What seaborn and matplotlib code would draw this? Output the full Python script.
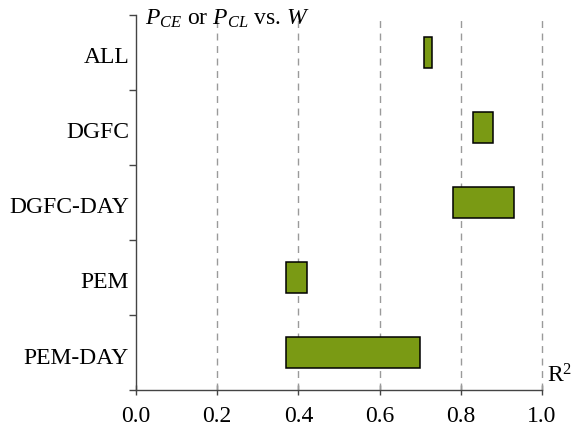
import matplotlib
matplotlib.use("Agg")
import matplotlib.pyplot as plt
import matplotlib.transforms as mtransforms
import seaborn as sns
import pandas as pd
import numpy as np

categories = ["ALL", "DGFC", "DGFC-DAY", "PEM", "PEM-DAY"]
r2_low = [0.71, 0.83, 0.78, 0.37, 0.37]
r2_high = [0.73, 0.88, 0.93, 0.42, 0.70]
x_ticks = [0.0, 0.2, 0.4, 0.6, 0.8, 1.0]

sns.set_style("white")
plt.rcParams["font.family"] = ["Liberation Serif", "DejaVu Serif"]
plt.rcParams["mathtext.fontset"] = "custom"
plt.rcParams["mathtext.rm"] = "Liberation Serif"
plt.rcParams["mathtext.it"] = "Liberation Serif:italic"
plt.rcParams["text.color"] = "black"
plt.rcParams["xtick.color"] = "black"
plt.rcParams["ytick.color"] = "black"

df = pd.DataFrame({
    "group": categories,
    "low": r2_low,
    "span": np.array(r2_high) - np.array(r2_low),
})

fig = plt.figure(figsize=(5.77, 4.33), dpi=100)
ax = fig.add_axes([0.2357, 0.0993, 0.7036, 0.8661])

sns.barplot(data=df, x="span", y="group", order=categories, orient="h",
            color="#7a9a14", saturation=1, width=0.41,
            edgecolor="black", linewidth=1.1, ax=ax, zorder=3)
# shift each bar so it starts at its lower R² bound
for patch, lo in zip(ax.patches, df["low"]):
    patch.set_x(lo)

ax.set_xlim(0, 1.0)
ax.set_ylim(4.5, -0.5)
ax.set_xlabel("")
ax.set_ylabel("")

for xv in x_ticks[1:]:
    ax.axvline(xv, color="#9a9a9a", lw=1.0, ls=(0, (5, 4)), zorder=1,
               clip_on=False)

ax.set_xticks(x_ticks)
ax.set_xticklabels([f"{v:.1f}" for v in x_ticks], fontsize=17)
ax.set_yticks(np.arange(-0.5, 5.0, 1.0))
ax.set_yticklabels([])
ax.set_yticks(range(len(categories)), minor=True)
ax.set_yticklabels(categories, minor=True, fontsize=17)
ax.tick_params(axis="y", which="minor", length=0, pad=5)
ax.tick_params(axis="y", which="major", direction="out", length=5,
               width=1.0, color="#444444", left=True)
ax.tick_params(axis="x", which="major", direction="inout", length=7,
               width=1.0, color="#444444", pad=8, bottom=True)

# nudge category labels slightly down
shift = mtransforms.ScaledTranslation(0, -3 / 100, fig.dpi_scale_trans)
for lbl in ax.get_yticklabels(minor=True):
    lbl.set_transform(lbl.get_transform() + shift)

for side in ["top", "right"]:
    ax.spines[side].set_visible(False)
for side in ["left", "bottom"]:
    ax.spines[side].set_color("#444444")
    ax.spines[side].set_linewidth(1.0)

ax.text(0.022, 1.02, r"$P_{CE}$ or $P_{CL}$ vs. $W$", transform=ax.transAxes,
        fontsize=17, ha="left", va="top")
ax.text(1.012, 0.008, r"R$^2$", transform=ax.transAxes,
        fontsize=17, ha="left", va="bottom")

fig.savefig("out.png", dpi=100)
